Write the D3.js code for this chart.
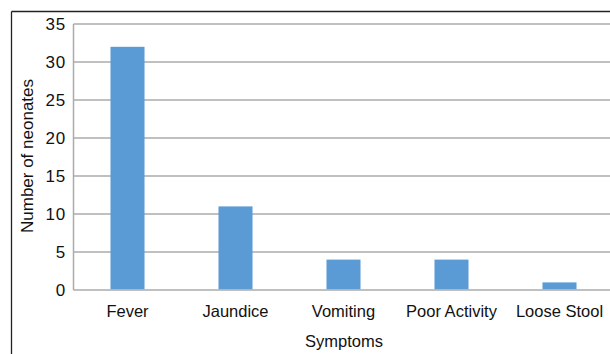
<!DOCTYPE html>
<html><head><meta charset="utf-8">
<script src="https://cdn.jsdelivr.net/npm/d3@7"></script>
<style>
html,body{margin:0;padding:0;background:#fff;}
svg{display:block;}
text{font-family:"Liberation Sans",Arial,sans-serif;fill:#111;}
</style></head>
<body><svg id="c" width="610" height="354"></svg>
<script>
const categories = ["Fever","Jaundice","Vomiting","Poor Activity","Loose Stool"];
const values = [32, 11, 4, 4, 1];
const yTicks = [0,5,10,15,20,25,30,35];
const xTitle = "Symptoms";
const yTitle = "Number of neonates";

(function(){
const svg = d3.select("#c");
const mLeft = 73.5, mRight = 613.5, mTop = 24, mBottom = 290;

svg.append("line").attr("x1",11.5).attr("x2",610).attr("y1",11.5).attr("y2",11.5)
  .attr("stroke","#222").attr("stroke-width",1.3);
svg.append("line").attr("x1",11.5).attr("x2",11.5).attr("y1",11.5).attr("y2",354)
  .attr("stroke","#222").attr("stroke-width",1.3);

const x = d3.scaleBand().domain(categories).range([mLeft,mRight]).paddingInner(0.685).paddingOuter(0.3425);
const y = d3.scaleLinear().domain([0,35]).range([mBottom,mTop]);

svg.append("g").selectAll("line").data(yTicks).join("line")
  .attr("x1",mLeft).attr("x2",610)
  .attr("y1",d=>y(d)).attr("y2",d=>y(d))
  .attr("stroke","#ababab").attr("stroke-width",1.5);

svg.append("line").attr("x1",mLeft).attr("x2",mLeft).attr("y1",mTop).attr("y2",mBottom)
  .attr("stroke","#ababab").attr("stroke-width",1.5);

svg.append("g").selectAll("rect").data(values).join("rect")
  .attr("x",(d,i)=>x(categories[i]))
  .attr("width",x.bandwidth())
  .attr("y",d=>y(d))
  .attr("height",d=>y(0)-y(d)-0.75)
  .attr("fill","#5b9bd5");

svg.append("g").selectAll("text").data(yTicks).join("text")
  .attr("x",66).attr("y",d=>y(d)+6)
  .attr("text-anchor","end").attr("font-size",17).attr("letter-spacing",0.8).text(d=>d);

svg.append("g").selectAll("text").data(categories).join("text")
  .attr("x",d=>x(d)+x.bandwidth()/2).attr("y",317)
  .attr("text-anchor","middle").attr("font-size",16.5).text(d=>d);

svg.append("text").attr("x",344).attr("y",347).attr("text-anchor","middle")
  .attr("font-size",16.5).text(xTitle);
svg.append("text").attr("transform","translate(33,156) rotate(-90)")
  .attr("text-anchor","middle").attr("font-size",17).text(yTitle);
})();
</script></body></html>
